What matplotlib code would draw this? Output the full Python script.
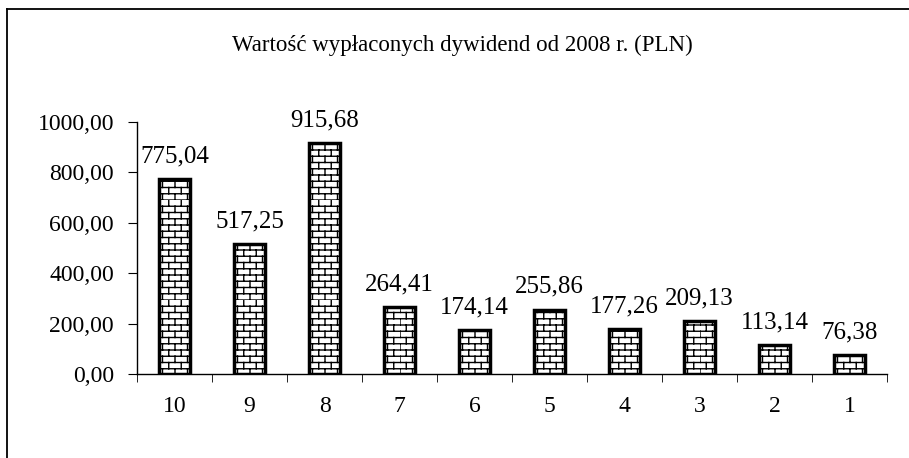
import numpy as np
import matplotlib
matplotlib.use("Agg")
import matplotlib.pyplot as plt
import matplotlib.hatch as mhatch
from matplotlib.path import Path
from matplotlib.lines import Line2D

categories = ["10", "9", "8", "7", "6", "5", "4", "3", "2", "1"]
values = [775.04, 517.25, 915.68, 264.41, 174.14, 255.86, 177.26, 209.13, 113.14, 76.38]
labels = ["775,04", "517,25", "915,68", "264,41", "174,14", "255,86", "177,26", "209,13", "113,14", "76,38"]
yticks = [0, 200, 400, 600, 800, 1000]
ytick_labels = ["0,00", "200,00", "400,00", "600,00", "800,00", "1000,00"]
title = "Wartość wypłaconych dywidend od 2008 r. (PLN)"


# brick hatch ('b'), not part of matplotlib's own set
class BrickHatch(mhatch.HatchPatternBase):
    def __init__(self, hatch, density):
        self.rows = 16 if "b" in hatch else 0
        self.cols = 8
        self.num_lines = self.rows * (1 + self.cols)
        self.num_vertices = self.num_lines * 2

    def set_vertices_and_codes(self, vertices, codes):
        k = 0
        for i in range(self.rows):
            y0 = i / self.rows
            y1 = (i + 1) / self.rows
            vertices[k] = (0, y0)
            vertices[k + 1] = (1, y0)
            k += 2
            off = 0.5 * (i % 2)
            for j in range(self.cols):
                x = (j + off) / self.cols
                vertices[k] = (x, y0)
                vertices[k + 1] = (x, y1)
                k += 2
        codes[0::2] = Path.MOVETO
        codes[1::2] = Path.LINETO


mhatch._hatch_types.append(BrickHatch)
mhatch._validate_hatch_pattern = lambda h: None

plt.rcParams["font.family"] = "Liberation Serif"
plt.rcParams["hatch.linewidth"] = 1.0

fig = plt.figure(figsize=(9.09, 4.58), dpi=100)
ax = fig.add_axes([137 / 909, 1 - 374 / 458, 750 / 909, 252 / 458])

x = np.arange(len(categories))
bars = ax.bar(x, values, width=0.41, color="white", edgecolor="black",
              linewidth=2.5, hatch="b")

for xi, v, lab in zip(x, values, labels):
    ax.annotate(lab, (xi, v), xytext=(0, 12), textcoords="offset points",
                ha="center", va="baseline", fontsize=18)

ax.set_xlim(-0.5, len(categories) - 0.5)
ax.set_ylim(0, 1000)
ax.set_yticks(yticks)
ax.set_yticklabels(ytick_labels, fontsize=17)
ax.set_xticks(x)
ax.set_xticklabels(categories, fontsize=17)
ax.tick_params(axis="x", length=0, pad=16)
ax.set_xticks(np.arange(len(categories) + 1) - 0.5, minor=True)
ax.tick_params(axis="x", which="minor", length=6, direction="out")
ax.tick_params(axis="y", length=6.5, direction="out", pad=10)
for s in ["top", "right"]:
    ax.spines[s].set_visible(False)
for s in ["left", "bottom"]:
    ax.spines[s].set_linewidth(1.0)

fig.text(462 / 909, 1 - 45 / 458, title, ha="center", va="center", fontsize=16.5)

# outer frame of the chart area
fig.add_artist(Line2D([7 / 909, 7 / 909], [0, 1 - 9 / 458], color="black", lw=1.3,
                      transform=fig.transFigure))
fig.add_artist(Line2D([7 / 909, 1], [1 - 9 / 458, 1 - 9 / 458], color="black", lw=1.3,
                      transform=fig.transFigure))

fig.savefig("out.png", dpi=100)
